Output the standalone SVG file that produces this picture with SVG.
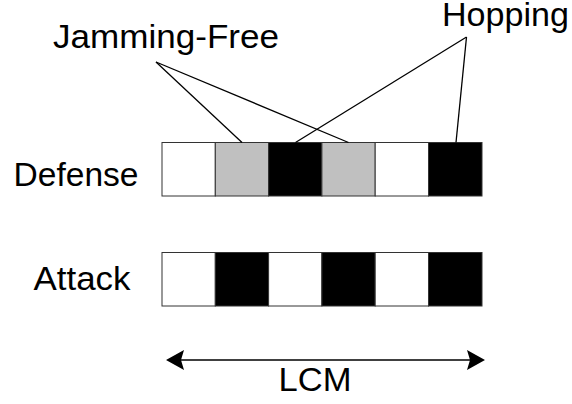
<svg xmlns="http://www.w3.org/2000/svg" width="572" height="404" viewBox="0 0 572 404">
  <style>
    .lbl { font-family: "Liberation Sans", Arial, sans-serif; font-size: 33px; fill: #000; text-anchor: middle; }
    .cell { stroke: #333; stroke-width: 1; }
    .w { fill: #fff; }
    .g { fill: #c0c0c0; }
    .b { fill: #000; }
    .lead { stroke: #000; stroke-width: 1.3; fill: none; }
  </style>
  <defs>
    <marker id="head" viewBox="0 0 18 20" refX="16" refY="10" markerWidth="18" markerHeight="20" markerUnits="userSpaceOnUse" orient="auto-start-reverse">
      <path d="M0,0 L18,10 L0,20 L3,10 Z" fill="#000"/>
    </marker>
  </defs>
  <rect width="572" height="404" fill="#fff"/>

  <!-- row labels and callouts -->
  <g id="label-jamming-free"><text class="lbl" x="166" y="48" textLength="226" lengthAdjust="spacingAndGlyphs">Jamming-Free</text></g>
  <g id="label-hopping"><text class="lbl" x="505.5" y="26" textLength="127" lengthAdjust="spacingAndGlyphs">Hopping</text></g>
  <g id="label-defense"><text class="lbl" x="76" y="186" textLength="125" lengthAdjust="spacingAndGlyphs">Defense</text></g>
  <g id="label-attack"><text class="lbl" x="82" y="290" textLength="97" lengthAdjust="spacingAndGlyphs">Attack</text></g>
  <g id="label-lcm"><text class="lbl" x="315" y="391" textLength="73" lengthAdjust="spacingAndGlyphs">LCM</text></g>

  <!-- defense slot sequence -->
  <g id="defense-row">
    <rect class="cell w" x="162" y="142.5" width="53.3" height="53.5"/>
    <rect class="cell g" x="215.3" y="142.5" width="53.3" height="53.5"/>
    <rect class="cell b" x="268.6" y="142.5" width="53.3" height="53.5"/>
    <rect class="cell g" x="321.9" y="142.5" width="53.3" height="53.5"/>
    <rect class="cell w" x="375.2" y="142.5" width="53.3" height="53.5"/>
    <rect class="cell b" x="428.5" y="142.5" width="53.5" height="53.5"/>
  </g>

  <!-- attack slot sequence -->
  <g id="attack-row">
    <rect class="cell w" x="162" y="252.5" width="53.3" height="53.5"/>
    <rect class="cell b" x="215.3" y="252.5" width="53.3" height="53.5"/>
    <rect class="cell w" x="268.6" y="252.5" width="53.3" height="53.5"/>
    <rect class="cell b" x="321.9" y="252.5" width="53.3" height="53.5"/>
    <rect class="cell w" x="375.2" y="252.5" width="53.3" height="53.5"/>
    <rect class="cell b" x="428.5" y="252.5" width="53.5" height="53.5"/>
  </g>

  <!-- connectors -->
  <g id="connectors">
    <line class="lead" x1="156" y1="62" x2="242" y2="142.5"/>
    <line class="lead" x1="156" y1="62" x2="348.5" y2="142.5"/>
    <line class="lead" x1="466.5" y1="37" x2="295.5" y2="142.5"/>
    <line class="lead" x1="466.5" y1="37" x2="456" y2="142.5"/>
    <line class="lead" x1="168" y1="360" x2="483" y2="360" marker-start="url(#head)" marker-end="url(#head)"/>
  </g>
</svg>
